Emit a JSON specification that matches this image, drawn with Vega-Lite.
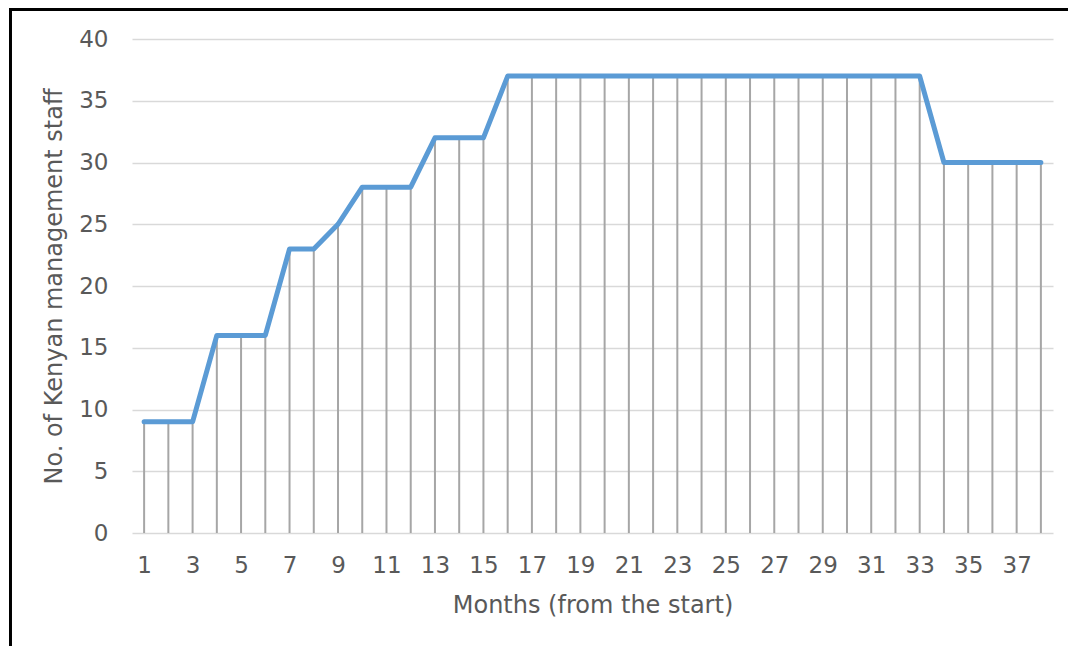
{
  "$schema": "https://vega.github.io/schema/vega-lite/v6.json",
  "width": 921,
  "height": 494,
  "autosize": {"type": "none"},
  "padding": {"left": 132, "top": 39, "right": 15, "bottom": 113},
  "background": "white",
  "config": {"view": {"stroke": null}, "font": "DejaVu Sans"},
  "data": {"values": [
    {"month": 1, "staff": 9}, {"month": 2, "staff": 9}, {"month": 3, "staff": 9},
    {"month": 4, "staff": 16}, {"month": 5, "staff": 16}, {"month": 6, "staff": 16},
    {"month": 7, "staff": 23}, {"month": 8, "staff": 23}, {"month": 9, "staff": 25},
    {"month": 10, "staff": 28}, {"month": 11, "staff": 28}, {"month": 12, "staff": 28},
    {"month": 13, "staff": 32}, {"month": 14, "staff": 32}, {"month": 15, "staff": 32},
    {"month": 16, "staff": 37}, {"month": 17, "staff": 37}, {"month": 18, "staff": 37},
    {"month": 19, "staff": 37}, {"month": 20, "staff": 37}, {"month": 21, "staff": 37},
    {"month": 22, "staff": 37}, {"month": 23, "staff": 37}, {"month": 24, "staff": 37},
    {"month": 25, "staff": 37}, {"month": 26, "staff": 37}, {"month": 27, "staff": 37},
    {"month": 28, "staff": 37}, {"month": 29, "staff": 37}, {"month": 30, "staff": 37},
    {"month": 31, "staff": 37}, {"month": 32, "staff": 37}, {"month": 33, "staff": 37},
    {"month": 34, "staff": 30}, {"month": 35, "staff": 30}, {"month": 36, "staff": 30},
    {"month": 37, "staff": 30}, {"month": 38, "staff": 30}
  ]},
  "layer": [
    {
      "mark": {"type": "rule", "color": "#a6a6a6", "strokeWidth": 2},
      "encoding": {
        "x": {
          "field": "month", "type": "quantitative",
          "scale": {"domain": [0.5, 38.5], "nice": false, "zero": false},
          "axis": {
            "title": "Months (from the start)",
            "values": [1,3,5,7,9,11,13,15,17,19,21,23,25,27,29,31,33,35,37],
            "grid": false, "domain": false, "ticks": false,
            "labelFontSize": 23, "labelColor": "#595959", "labelPadding": 21,
            "titleFontSize": 24, "titleFontWeight": "normal", "titleColor": "#595959", "titlePadding": 16
          }
        },
        "y": {
          "field": "staff", "type": "quantitative",
          "scale": {"domain": [0, 40], "nice": false},
          "axis": {
            "title": "No. of Kenyan management staff",
            "values": [0,5,10,15,20,25,30,35,40],
            "grid": true, "gridColor": "#d9d9d9", "gridWidth": 1.5,
            "domain": false, "ticks": false,
            "labelFontSize": 23, "labelColor": "#595959", "labelPadding": 24,
            "titleFontSize": 24, "titleFontWeight": "normal", "titleColor": "#595959", "titlePadding": 12
          }
        },
        "y2": {"datum": 0}
      }
    },
    {
      "mark": {"type": "line", "color": "#5b9bd5", "strokeWidth": 5, "strokeCap": "round", "strokeJoin": "round"},
      "encoding": {
        "x": {"field": "month", "type": "quantitative"},
        "y": {"field": "staff", "type": "quantitative"}
      }
    },
    {
      "mark": {"type": "rect", "fill": null, "stroke": "black", "strokeWidth": 2, "clip": false},
      "encoding": {
        "x": {"datum": -4.53},
        "x2": {"datum": 45},
        "y": {"datum": 42.39},
        "y2": {"datum": -15}
      }
    }
  ]
}
